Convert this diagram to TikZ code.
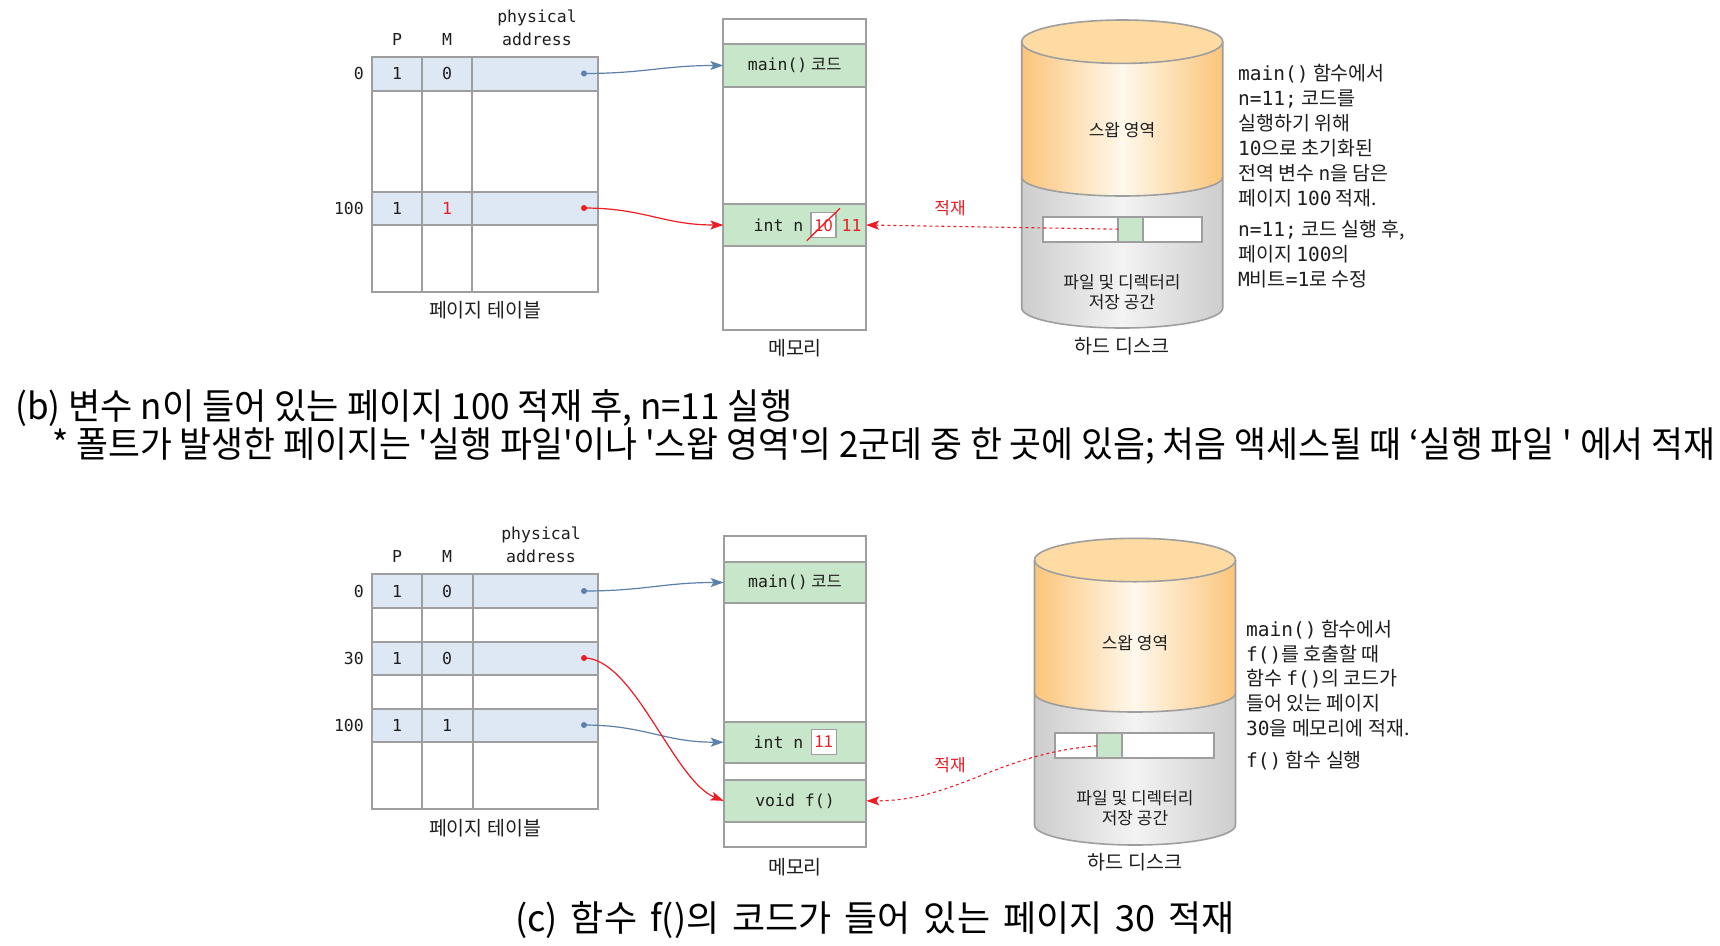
\documentclass[tikz,border=0pt]{standalone}
\usepackage{fontspec}
\setmainfont{Noto Sans CJK KR}
\newfontfamily\kr{Noto Sans CJK KR}
\setmonofont{DejaVu Sans Mono}
\usetikzlibrary{arrows.meta}
\definecolor{gridc}{HTML}{9E9E9E}
\definecolor{rowblue}{HTML}{DEE8F5}
\definecolor{memgreen}{HTML}{C8E6C9}
\definecolor{hred}{HTML}{ED1C24}
\definecolor{arrblue}{HTML}{5B80AA}
\definecolor{txt}{HTML}{1E1E1E}
\definecolor{orgedge}{HTML}{FBC57A}
\definecolor{orgmid}{HTML}{FFF8EC}
\definecolor{orgtop}{HTML}{FDDBA2}
\definecolor{gryedge}{HTML}{CDCDCD}
\definecolor{grymid}{HTML}{F3F3F3}
\newcommand{\tm}[1]{{\ttfamily #1}}
\newcommand{\hdisk}[4]{%
  \path[left color=gryedge,right color=gryedge,middle color=grymid]
    (#1-100.5,#3) -- (#1-100.5,#4) arc[start angle=180,end angle=0,x radius=100.5,y radius=20]
    -- (#1+100.5,#3) arc[start angle=0,end angle=180,x radius=100.5,y radius=19] -- cycle;
  \path[left color=orgedge,right color=orgedge,middle color=orgmid]
    (#1-100.5,#2) -- (#1-100.5,#3) arc[start angle=180,end angle=0,x radius=100.5,y radius=19]
    -- (#1+100.5,#2) -- cycle;
  \draw[diskline,fill=orgtop] (#1,#2) ellipse[x radius=100.5,y radius=21.7];
  \draw[diskline] (#1-100.5,#2) -- (#1-100.5,#4) arc[start angle=180,end angle=0,x radius=100.5,y radius=20] -- (#1+100.5,#2);
  \draw[diskline] (#1-100.5,#3) arc[start angle=180,end angle=0,x radius=100.5,y radius=19];
}
\tikzset{
  gl/.style={draw=gridc,line width=2},
  diskline/.style={draw=gridc,line width=1.6},
  tbl/.style={font=\fontsize{16.5}{19}\selectfont\ttfamily,text=txt,inner sep=0},
  lbl/.style={font=\fontsize{19.5}{22}\selectfont\kr,text=txt,inner sep=0},
  dlbl/.style={font=\fontsize{17}{20}\selectfont\kr,text=txt,inner sep=0,align=center},
  note/.style={font=\fontsize{19.5}{22}\selectfont\kr,text=txt,inner sep=0,anchor=base west},
  capt/.style={font=\fontsize{36}{40}\selectfont\kr,text=black,inner sep=0,anchor=west},
  memcell/.style={draw=gridc,line width=2,fill=memgreen,minimum width=142.7,inner sep=0,outer sep=0,
     font=\fontsize{16.5}{19}\selectfont,text=txt},
  valbox/.style={draw=gridc,line width=1.5,fill=white,minimum width=25,minimum height=25,inner sep=0,
     font=\fontsize{16.5}{19}\selectfont,text=hred},
  pdot/.style={circle,inner sep=0,minimum size=6},
  slotbox/.style={draw=gridc,line width=1.8,fill=white,minimum height=25,inner sep=0},
  slotg/.style={draw=gridc,line width=1.8,fill=memgreen,minimum width=25,minimum height=25,inner sep=0,outer sep=0},
  arrb/.style={draw=arrblue,line width=1.2,-{Stealth[length=13pt,width=9pt,inset=3pt]}},
  arrr/.style={draw=hred,line width=1.2,-{Stealth[length=13pt,width=9pt,inset=3pt]}},
  arrd/.style={draw=hred,line width=1.1,dash pattern=on 3pt off 3pt,-{Stealth[length=13pt,width=9pt,inset=3pt]}},
}
\begin{document}
\begin{tikzpicture}[x=1pt,y=-1pt]
\useasboundingbox[fill=white] (0,0) rectangle (1720,945);

% ===================== (b) =====================
\fill[rowblue] (372,57) rectangle (598,91);
\fill[rowblue] (372,191.5) rectangle (598,225);
\draw[gl] (372,57) rectangle (598,292.3);
\draw[gl] (422,57) -- (422,292.3);
\draw[gl] (472.3,57) -- (472.3,292.3);
\draw[gl] (372,91) -- (598,91);
\draw[gl] (372,191.5) -- (598,191.5);
\draw[gl] (372,225) -- (598,225);
\node[tbl] (bhp) at (397,39) {P};
\node[tbl] (bhm) at (447,39) {M};
\node[tbl] (bhpa) at (537,18) {physical};
\node[tbl] (bhpb) at (537,39) {address};
\node[tbl,anchor=east] (br0) at (364,73.5) {0};
\node[tbl,anchor=east] (br100) at (364,208) {100};
\node[tbl] (bp0) at (397,73.5) {1};
\node[tbl] (bm0) at (447,73.5) {0};
\node[tbl] (bp100) at (397,208) {1};
\node[tbl,text=hred] (bm100) at (447,208) {1};
\node[pdot,fill=arrblue] (bd0) at (584,73.5) {};
\node[pdot,fill=hred] (bd100) at (584,208) {};
\node[lbl] (bptl) at (485,310) {페이지 테이블};

\node[draw=gridc,line width=2,minimum width=142.7,minimum height=310.7,inner sep=0] (bmem) at (794.65,174.65) {};
\draw[gl] (723.3,44.3) -- (866,44.3);
\node[memcell,minimum height=42.4] (bmain) at (794.65,65.5) {\tm{main()} 코드};
\node[memcell,minimum height=42] (bint) at (794.65,225) {};
\node[tbl] (bintt) at (778.5,225) {int n};
\node[valbox] (bval) at (823.5,225.2) {10};
\draw[hred,line width=1.3] (806.7,240.7) -- (840,208.3);
\node[tbl,text=hred] (bnew) at (851.5,225) {11};
\node[lbl] (bmeml) at (795,348) {메모리};

\hdisk{1122.2}{41.7}{177}{308}
\node[dlbl] (bswap) at (1122,130) {스왑 영역};
\node[slotbox,minimum width=159.6] (bslot) at (1122.5,229.2) {};
\node[slotg] (bslotg) at (1130.8,229.2) {};
\node[dlbl] (bfs1) at (1122,281.7) {파일 및 디렉터리};
\node[dlbl] (bfs2) at (1122,301.7) {저장 공간};
\node[lbl] (bdiskl) at (1122,346.7) {하드 디스크};

\node[note] (bn1) at (1238,80) {\tm{main()} 함수에서};
\node[note] (bn2) at (1238,105) {\tm{n=11;} 코드를};
\node[note] (bn3) at (1238,130) {실행하기 위해};
\node[note] (bn4) at (1238,155) {\tm{10}으로 초기화된};
\node[note] (bn5) at (1238,180) {전역 변수 \tm{n}을 담은};
\node[note] (bn6) at (1238,205) {페이지 \tm{100} 적재.};
\node[note] (bn7) at (1238,236.5) {\tm{n=11;} 코드 실행 후,};
\node[note] (bn8) at (1238,261.5) {페이지 \tm{100}의};
\node[note] (bn9) at (1238,286.5) {\tm{M}비트\tm{=1}로 수정};

\draw[arrb] (bd0.center) .. controls +(60,0) and +(-60,0) .. (bmain.west);
\draw[arrr] (bd100.center) .. controls +(60,0) and +(-60,0) .. (bint.west);
\draw[arrd] (bslotg.west) -- (bint.east);
\node[font=\fontsize{17}{19}\selectfont\kr,text=hred,inner sep=0] (bload) at (950,208) {적재};

\node[capt] (bcap1) at (15,408) {\scalebox{0.974}[1]{(b) 변수 n이 들어 있는 페이지 100 적재 후, n=11 실행}};
\node[capt] (bcap2) at (52,446) {\scalebox{0.964}[1]{* 폴트가 발생한 페이지는 '실행 파일'이나 '스왑 영역'의 2군데 중 한 곳에 있음; 처음 액세스될 때 ‘실행 파일 ' 에서 적재}};

% ===================== (c) =====================
\fill[rowblue] (372,574.3) rectangle (598,607.7);
\fill[rowblue] (372,641.7) rectangle (598,675);
\fill[rowblue] (372,709) rectangle (598,741.7);
\draw[gl] (372,574.3) rectangle (598,809);
\draw[gl] (422.3,574.3) -- (422.3,809);
\draw[gl] (473,574.3) -- (473,809);
\foreach \yy in {607.7,641.7,675,709,741.7} \draw[gl] (372,\yy) -- (598,\yy);
\node[tbl] (chp) at (397,556) {P};
\node[tbl] (chm) at (447,556) {M};
\node[tbl] (chpa) at (541,535) {physical};
\node[tbl] (chpb) at (541,556) {address};
\node[tbl,anchor=east] (cr0) at (364,591) {0};
\node[tbl,anchor=east] (cr30) at (364,658) {30};
\node[tbl,anchor=east] (cr100) at (364,725) {100};
\node[tbl] (cp0) at (397,591) {1};
\node[tbl] (cm0) at (447,591) {0};
\node[tbl] (cp30) at (397,658) {1};
\node[tbl] (cm30) at (447,658) {0};
\node[tbl] (cp100) at (397,725) {1};
\node[tbl] (cm100) at (447,725) {1};
\node[pdot,fill=arrblue] (cd0) at (584,591) {};
\node[pdot,fill=hred] (cd30) at (584,658) {};
\node[pdot,fill=arrblue] (cd100) at (584,725) {};
\node[lbl] (cptl) at (485,828) {페이지 테이블};

\node[draw=gridc,line width=2,minimum width=142,minimum height=310.7,inner sep=0] (cmem) at (795,691.35) {};
\draw[gl] (724,561.7) -- (866,561.7);
\draw[gl] (724,780) -- (866,780);
\node[memcell,minimum height=41.6] (cmain) at (795,582.5) {\tm{main()} 코드};
\node[memcell,minimum height=41] (cint) at (795,742.2) {};
\node[tbl] (cintt) at (778.5,742.2) {int n};
\node[valbox] (cval) at (823.8,742) {11};
\node[memcell,minimum height=41.7] (cvoid) at (795,800.85) {\tm{void f()}};
\node[lbl] (cmeml) at (795,866.7) {메모리};

\hdisk{1135}{560}{693}{825}
\node[dlbl] (cswap) at (1135,642.7) {스왑 영역};
\node[slotbox,minimum width=159.3] (cslot) at (1134.65,745.8) {};
\node[slotg] (cslotg) at (1109.2,745.8) {};
\node[dlbl] (cfs1) at (1135,798.3) {파일 및 디렉터리};
\node[dlbl] (cfs2) at (1135,818.3) {저장 공간};
\node[lbl] (cdiskl) at (1135,861.7) {하드 디스크};

\node[note] (cn1) at (1246,636.5) {\tm{main()} 함수에서};
\node[note] (cn2) at (1246,661.5) {\tm{f()}를 호출할 때};
\node[note] (cn3) at (1246,685.8) {함수 \tm{f()}의 코드가};
\node[note] (cn4) at (1246,710.8) {들어 있는 페이지};
\node[note] (cn5) at (1246,735.8) {\tm{30}을 메모리에 적재.};
\node[note] (cn6) at (1246,767.5) {\tm{f()} 함수 실행};

\draw[arrb] (cd0.center) .. controls +(60,0) and +(-60,0) .. (cmain.west);
\draw[arrb] (cd100.center) .. controls +(60,0) and +(-60,0) .. (cint.west);
\draw[arrr] (cd30.center) .. controls +(50,0) and +(-50,-20) .. (cvoid.west);
\draw[arrd] (cslotg.west) .. controls +(-100,8) and +(90,0) .. (cvoid.east);
\node[font=\fontsize{17}{19}\selectfont\kr,text=hred,inner sep=0] (cload) at (950,765) {적재};

\node[capt] (ccap) at (515,920) {\spaceskip=13pt (c) 함수 f()의 코드가 들어 있는 페이지 30 적재};
\end{tikzpicture}
\end{document}
